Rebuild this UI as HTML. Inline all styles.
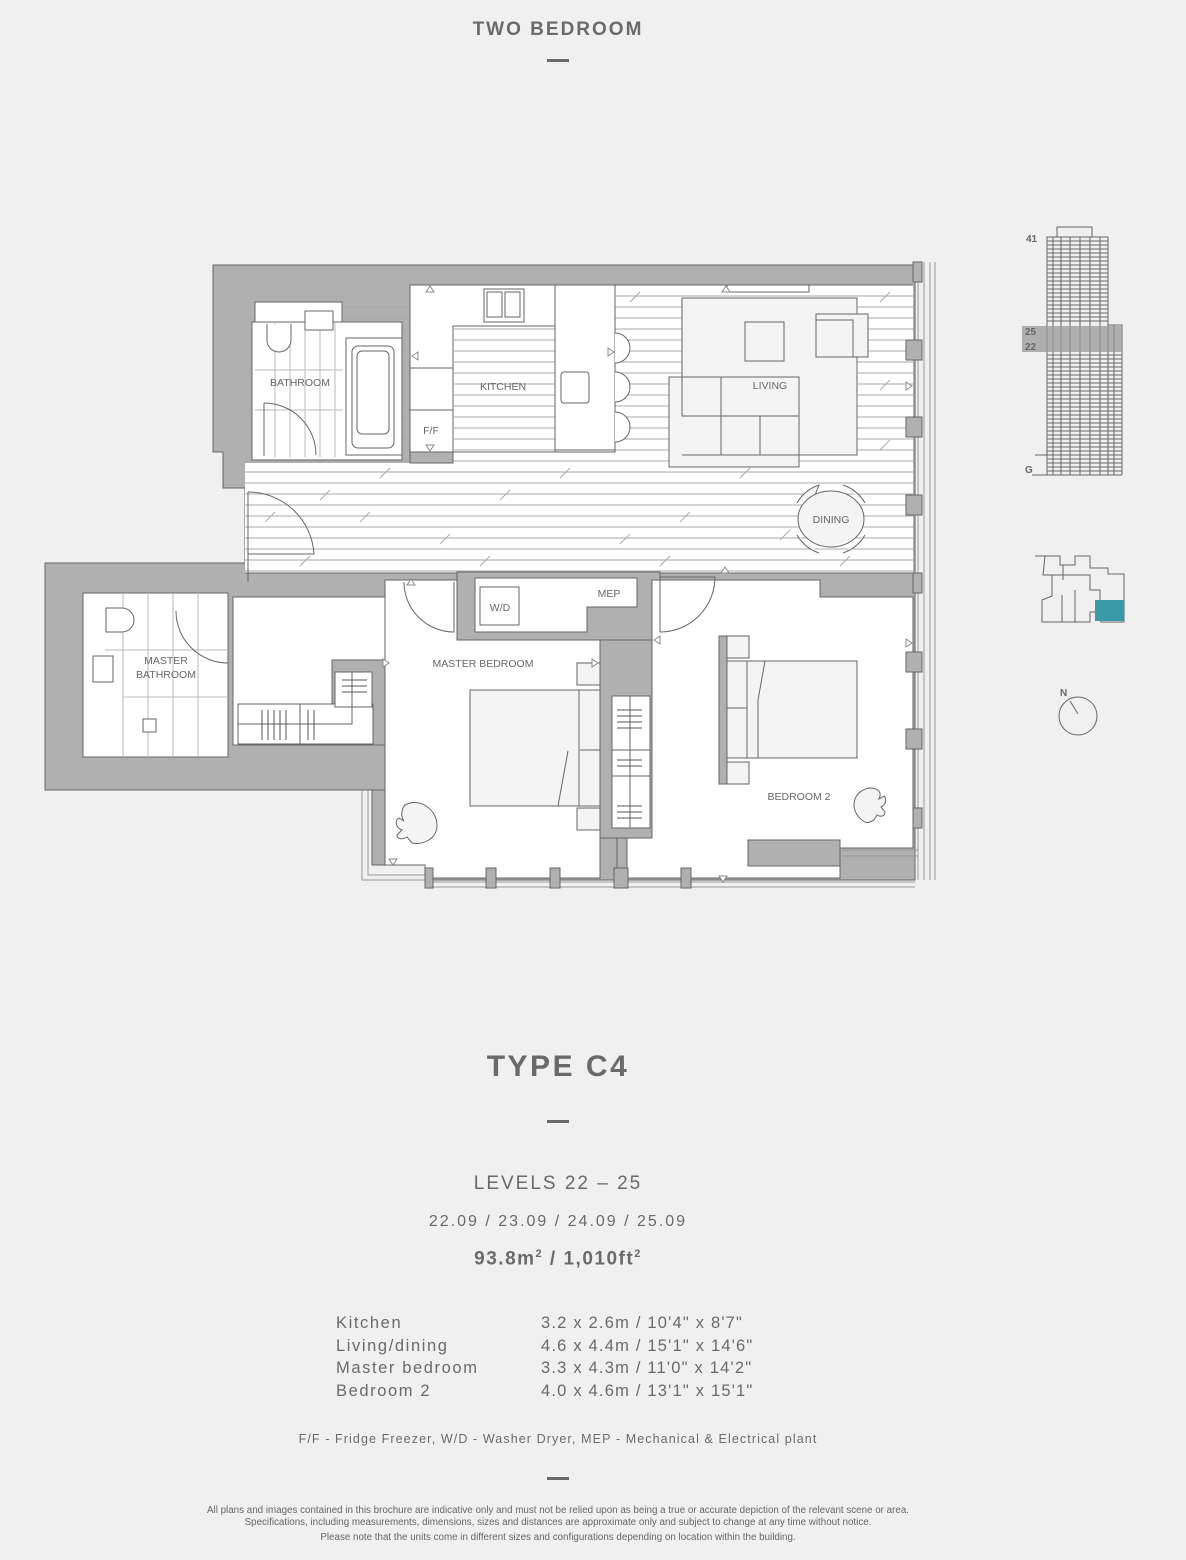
<!DOCTYPE html>
<html><head><meta charset="utf-8"><style>
html,body{margin:0;padding:0;background:#eff0ef;}
body{width:1186px;height:1560px;position:relative;overflow:hidden;font-family:"Liberation Sans",sans-serif;color:#6a6a6a;}
.t{position:absolute;left:0;width:1116px;text-align:center;white-space:nowrap;}
.dash{position:absolute;left:547px;width:22px;height:3px;background:#6a6a6a;}
.row{position:absolute;font-size:16.5px;letter-spacing:1.6px;color:#6a6a6a;white-space:nowrap;}
</style></head><body>
<div class="t" style="top:19px;font-size:19px;letter-spacing:2px;font-weight:bold;">TWO BEDROOM</div>
<div class="dash" style="top:59px"></div>

<svg width="1186" height="1560" style="position:absolute;left:0;top:0" xmlns="http://www.w3.org/2000/svg">
<defs>
<clipPath id="hc"><rect x="245" y="285" width="668" height="288"/></clipPath>
<clipPath id="bc"><rect x="255" y="322" width="88" height="135"/></clipPath>
</defs>
<g stroke="#666" stroke-width="1" fill="none">
<polygon fill="#b0b0b0" points="213,265 915,265 915,880 425,880 425,865 372,865 372,790 45,790 45,563 245,563 245,488 223,488 223,452 213,452"/>
<rect x="245" y="463" width="668" height="110" fill="#fff" stroke="none"/>
<rect x="410" y="285" width="503" height="180" fill="#fff" stroke="none"/>
<g clip-path="url(#hc)" stroke="#aaa" stroke-width="1">
<path d="M245 296H913M245 307H913M245 318H913M245 329H913M245 340H913M245 351H913M245 362H913M245 373H913M245 384H913M245 395H913M245 406H913M245 417H913M245 428H913M245 439H913M245 450H913M245 461H913M245 472H913M245 483H913M245 494H913M245 505H913M245 516H913M245 527H913M245 538H913M245 549H913M245 560H913M245 571H913"/>
<path d="M265 522l10-10M320 500l10-10M380 478l10-10M440 544l10-10M500 500l10-10M560 478l10-10M620 544l10-10M680 522l10-10M740 478l10-10M300 566l10-10M480 566l10-10M660 566l10-10M840 566l10-10M630 302l10-10M880 302l10-10M880 390l10-10M880 450l10-10M470 390l10-10M500 350l10-10M520 430l10-10M360 522l10-10M780 540l10-10"/>
</g>
<line x1="245" y1="573" x2="913" y2="573"/>
<line x1="410" y1="285" x2="913" y2="285"/>
<rect x="410" y="285" width="205" height="167" fill="#fff"/>
<rect x="453" y="326" width="102" height="126" fill="#fff"/>
<g clip-path="url(#hc)" stroke="#aaa"><path d="M453 340H555M453 351H555M453 362H555M453 373H555M453 395H555M453 406H555M453 417H555M453 428H555M453 439H555M453 450H555M453 329H555M453 384H555"/></g>
<rect x="555" y="285" width="60" height="165" fill="#fff"/>
<rect x="484" y="289" width="40" height="33" fill="#fff"/><rect x="487" y="292" width="15" height="25" fill="#fff"/><rect x="505" y="292" width="15" height="25" fill="#fff"/>
<path d="M410 368H453M410 410H453" />
<rect x="561" y="372" width="28" height="31" rx="3" fill="#fff"/>
<path d="M615 333a15 15 0 0 1 0 30M615 372a15 15 0 0 1 0 30M615 412a15 15 0 0 1 0 30" fill="#fff"/>
<rect x="410" y="452" width="43" height="11" fill="#b0b0b0"/>
<rect x="255" y="302" width="87" height="22" fill="#fff"/>
<rect x="252" y="322" width="150" height="138" fill="#fff"/>
<g clip-path="url(#bc)" stroke="#bbb"><path d="M275 322V460M290 322V460M305 322V460M320 322V460M335 322V460M255 410H343M255 370H343"/></g>
<rect x="346" y="338" width="56" height="117" fill="#fff"/>
<rect x="352" y="346" width="42" height="102" rx="6" fill="#fff"/><rect x="357" y="351" width="32" height="83" rx="5" fill="#fff"/>
<rect x="305" y="311" width="28" height="19" fill="#fff"/>
<path d="M267 324v16a12 12 0 0 0 24 0v-16" fill="#fff"/>
<path d="M264 403v53M264 403a52 52 0 0 1 52 52"/>
<path d="M248 492v90M248 492a66 66 0 0 1 66 62H248"/>
<rect x="682" y="298" width="175" height="157" fill="#f4f4f4"/>
<rect x="745" y="322" width="39" height="39" fill="#f4f4f4"/>
<rect x="816" y="314" width="52" height="43" fill="#f4f4f4"/><rect x="816" y="320" width="37" height="37" fill="#f4f4f4"/>
<rect x="669" y="377" width="130" height="90" fill="#f4f4f4"/>
<rect x="682" y="377" width="39" height="39" fill="#f4f4f4"/>
<path d="M682 416H799M721 416V455M760 416V455M682 455H799"/>
<rect x="727" y="285" width="82" height="7" fill="#fff"/>
<g fill="#f4f4f4">
<path d="M797 503a40 40 0 0 1 22-18l-4 10M797 535a40 40 0 0 0 22 18M865 503a40 40 0 0 0-22-18M865 535a40 40 0 0 1-22 18"/>
<ellipse cx="831" cy="519" rx="33" ry="28"/>
</g>
<rect x="233" y="597" width="152" height="148" fill="#fff"/>
<polygon fill="#b0b0b0" points="332,660 385,660 385,745 332,745"/>
<polygon fill="#fff" points="385,580 457,580 457,640 600,640 600,878 425,878 425,865 385,865"/>
<polygon fill="#b0b0b0" points="372,790 385,790 385,865 372,865"/>
<path d="M404 582a50 50 0 0 0 50 50V582"/>
<rect x="238" y="704" width="135" height="40" fill="#fff"/>
<rect x="335" y="672" width="37" height="35" fill="#fff"/>
<path d="M238 724H352V672M300 704V744"/>
<path d="M342 680h25M342 686h25M342 692h25M262 710v30M268 710v30M274 710v30M280 710v30M286 710v30M308 710v30M314 710v30" stroke="#555"/>
<rect x="83" y="593" width="145" height="164" fill="#fff"/>
<path d="M123 593V757M148 593V757M173 593V757M198 593V757M105 650H228M123 697H228" stroke="#bbb"/>
<path d="M106 608h16a12 12 0 0 1 0 24h-16z" fill="#fff"/>
<rect x="93" y="656" width="20" height="26" fill="#fff"/>
<rect x="143" y="719" width="13" height="13" fill="#fff"/>
<path d="M176 611a52 52 0 0 0 52 52"/>
<polygon fill="#b0b0b0" points="457,572 660,572 660,640 600,640 457,640"/>
<polygon fill="#fff" points="475,578 637,578 637,607 587,607 587,632 475,632"/>
<rect x="480" y="587" width="39" height="38" fill="#fff"/>
<polygon fill="#fff" points="652,580 820,580 820,597 913,597 913,848 748,848 748,866 840,866 840,878 627,878 627,838 652,838"/>
<rect x="600" y="640" width="52" height="198" fill="#b0b0b0"/>
<rect x="617" y="838" width="10" height="42" fill="#b0b0b0"/>
<rect x="612" y="696" width="38" height="132" fill="#fff"/>
<path d="M612 750H650M612 776H650M630 696V828"/>
<path d="M617 710h25M617 716h25M617 722h25M617 728h25M617 760h25M617 766h25M617 806h25M617 812h25M617 818h25" stroke="#555"/>
<path d="M660 632a55 55 0 0 0 55-55H660z"/>
<rect x="577" y="663" width="23" height="22" fill="#f4f4f4"/><rect x="577" y="808" width="23" height="22" fill="#f4f4f4"/>
<rect x="470" y="690" width="130" height="116" fill="#f4f4f4"/>
<path d="M579 690V806M580 750H600M558 806l10-55"/>
<rect x="719" y="636" width="8" height="148" fill="#b0b0b0"/>
<rect x="727" y="636" width="22" height="22" fill="#f4f4f4"/><rect x="727" y="762" width="22" height="22" fill="#f4f4f4"/>
<rect x="727" y="661" width="130" height="97" fill="#f4f4f4"/>
<path d="M747 661V758M727 708H747M758 758V700l7-39"/>
<path d="M405 805c15-8 32 5 32 20s-15 20-25 18l-5-6c-5 3-10 2-10-2l5-5c-6-2-8-10-3-12l5 3c-4-5-2-13 1-16z" fill="#f4f4f4"/>
<path d="M870 788c-16 2-20 18-12 28s12 6 16 4l3-5c5 3 8 0 8-3l-4-5c5-2 6-8 3-11l-5 3c3-6 0-11-9-11z" fill="#f4f4f4"/>
<g stroke="#999"><path d="M918 262V880M924 262V880M930 262V880M935 262V880"/></g>
<path d="M425 882H915M425 887H915" stroke="#999"/>
<path d="M362 790V880H425M368 790V875H425M842 850H918M842 856H918" stroke="#999"/>
<g fill="#b0b0b0">
<rect x="913" y="262" width="9" height="20"/><rect x="906" y="340" width="16" height="20"/><rect x="906" y="417" width="16" height="20"/><rect x="906" y="495" width="16" height="20"/><rect x="913" y="573" width="9" height="20"/><rect x="906" y="652" width="16" height="20"/><rect x="906" y="729" width="16" height="20"/><rect x="913" y="808" width="9" height="20"/>
<rect x="425" y="868" width="8" height="20"/><rect x="486" y="868" width="10" height="20"/><rect x="550" y="868" width="10" height="20"/><rect x="614" y="868" width="14" height="20"/><rect x="681" y="868" width="10" height="20"/><rect x="748" y="840" width="92" height="26"/></g>
<g fill="#fff" stroke="#888">
<path d="M426 292l4-6 4 6z"/><path d="M426 445l4 6 4-6z"/><path d="M412 356l6-4v8z"/><path d="M614 352l-6-4v8z"/><path d="M722 292l4-6 4 6z"/><path d="M912 386l-6-4v8z"/><path d="M389 859l4 6 4-6z"/><path d="M389 663l-6-4v8z"/><path d="M598 663l-6-4v8z"/><path d="M719 876l4 6 4-6z"/><path d="M721 573l4-6 4 6z"/><path d="M912 643l-6-4v8z"/><path d="M654 640l6-4v8z"/><path d="M407 585l4-6 4 6z"/>
</g>
</g>
<g font-family="Liberation Sans, sans-serif" font-size="10.5" fill="#666" text-anchor="middle">
<text x="300" y="386">BATHROOM</text><text x="503" y="390">KITCHEN</text><text x="431" y="434">F/F</text>
<text x="770" y="389">LIVING</text><text x="831" y="523">DINING</text>
<text x="166" y="664">MASTER</text><text x="166" y="678">BATHROOM</text>
<text x="483" y="667">MASTER BEDROOM</text><text x="500" y="611">W/D</text><text x="609" y="597">MEP</text>
<text x="799" y="800">BEDROOM 2</text>
</g>
<g stroke="#666" fill="none" stroke-width="1">
<rect x="1047" y="237" width="61" height="238"/>
<rect x="1057" y="227" width="35" height="10"/>
<path d="M1108 280V475M1108 325H1122V475"/>
<path d="M1053 237V475M1061 237V475M1070 237V475M1080 237V475M1090 237V475M1100 237V475M1114 325V475"/>
<path d="M1047 241H1108M1047 245H1108M1047 249H1108M1047 253H1108M1047 257H1108M1047 261H1108M1047 265H1108M1047 269H1108M1047 273H1108M1047 277H1108M1047 281H1108M1047 285H1108M1047 289H1108M1047 293H1108M1047 297H1108M1047 301H1108M1047 305H1108M1047 309H1108M1047 313H1108M1047 317H1108M1047 321H1108M1047 355H1122M1047 359H1122M1047 363H1122M1047 367H1122M1047 371H1122M1047 375H1122M1047 379H1122M1047 383H1122M1047 387H1122M1047 391H1122M1047 395H1122M1047 399H1122M1047 403H1122M1047 407H1122M1047 411H1122M1047 415H1122M1047 419H1122M1047 423H1122M1047 427H1122M1047 431H1122M1047 435H1122M1047 439H1122M1047 443H1122M1047 447H1122M1047 451H1122M1047 455H1122M1047 459H1122M1047 463H1122M1047 467H1122M1047 471H1122M1032 475H1122M1035 455H1047"/>
</g>
<rect x="1022" y="326" width="100" height="26" fill="#999" opacity="0.75"/>
<g font-family="Liberation Sans, sans-serif" font-size="10" font-weight="bold" fill="#666">
<text x="1026" y="242">41</text><text x="1025" y="335">25</text><text x="1025" y="350">22</text><text x="1025" y="473">G</text><text x="1060" y="696">N</text>
</g>
<g stroke="#666" fill="none">
<path d="M1035 556H1045L1043 575H1052V596L1042 600V622H1090V612H1095L1101 622H1124V574H1108V568H1090V556H1075V565H1060V556H1045"/>
<path d="M1052 575H1090V590H1100V612M1063 565V580M1075 590V622M1062 595V622"/>
</g>
<rect x="1095" y="600" width="29" height="21" fill="#3a9aa8"/>
<circle cx="1078" cy="716" r="19" stroke="#666" fill="none"/>
<path d="M1070 701L1078 714" stroke="#666"/>
</svg>

<div class="t" style="top:1050px;font-size:30px;letter-spacing:2.5px;font-weight:bold;">TYPE C4</div>
<div class="dash" style="top:1120px"></div>
<div class="t" style="top:1173px;font-size:19px;letter-spacing:2px;">LEVELS 22 – 25</div>
<div class="t" style="top:1213px;font-size:16px;letter-spacing:2px;">22.09 / 23.09 / 24.09 / 25.09</div>
<div class="t" style="top:1248px;font-size:19px;letter-spacing:1.5px;font-weight:bold;">93.8m<sup style="font-size:11px">2</sup> / 1,010ft<sup style="font-size:11px">2</sup></div>
<div class="row" style="left:336px;top:1314px">Kitchen</div><div class="row" style="left:541px;top:1314px;letter-spacing:1.2px">3.2 x 2.6m / 10'4" x 8'7"</div>
<div class="row" style="left:336px;top:1337px">Living/dining</div><div class="row" style="left:541px;top:1337px;letter-spacing:1.2px">4.6 x 4.4m / 15'1" x 14'6"</div>
<div class="row" style="left:336px;top:1359px">Master bedroom</div><div class="row" style="left:541px;top:1359px;letter-spacing:1.2px">3.3 x 4.3m / 11'0" x 14'2"</div>
<div class="row" style="left:336px;top:1382px">Bedroom 2</div><div class="row" style="left:541px;top:1382px;letter-spacing:1.2px">4.0 x 4.6m / 13'1" x 15'1"</div>
<div class="t" style="top:1432px;font-size:12.5px;letter-spacing:1.1px;">F/F - Fridge Freezer, W/D - Washer Dryer, MEP - Mechanical &amp; Electrical plant</div>
<div class="dash" style="top:1477px"></div>
<div class="t" style="top:1505px;font-size:9.8px;color:#666;">All plans and images contained in this brochure are indicative only and must not be relied upon as being a true or accurate depiction of the relevant scene or area.</div>
<div class="t" style="top:1517px;font-size:9.8px;color:#666;">Specifications, including measurements, dimensions, sizes and distances are approximate only and subject to change at any time without notice.</div>
<div class="t" style="top:1532px;font-size:9.8px;color:#666;">Please note that the units come in different sizes and configurations depending on location within the building.</div>
</body></html>
